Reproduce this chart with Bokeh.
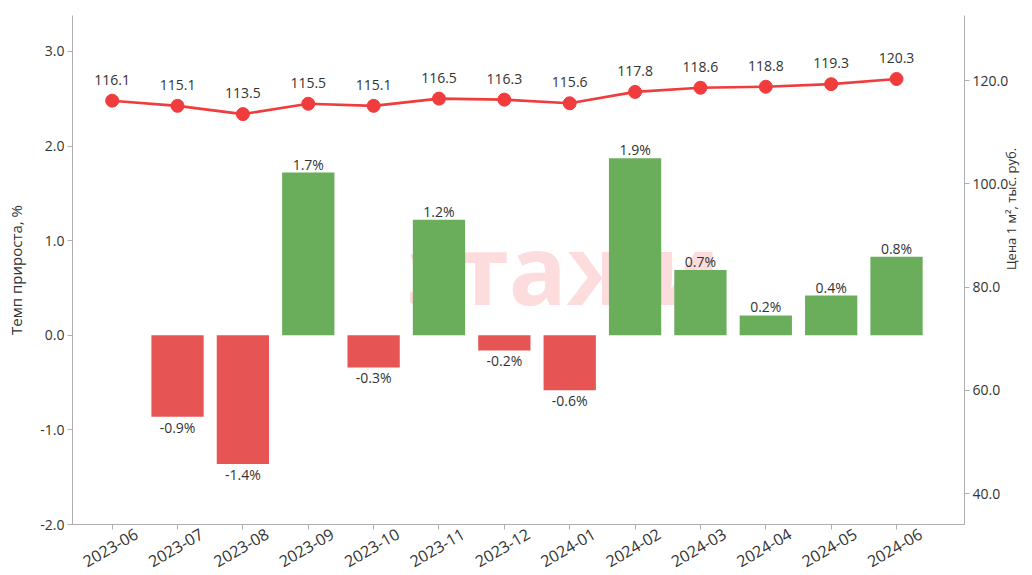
from bokeh.plotting import figure
from bokeh.models import Range1d, LinearAxis, FixedTicker, ColumnDataSource, CustomJSTickFormatter
from bokeh.core.properties import value
from bokeh.embed import file_html
from bokeh.resources import INLINE

months = ["2023-06", "2023-07", "2023-08", "2023-09", "2023-10", "2023-11", "2023-12",
          "2024-01", "2024-02", "2024-03", "2024-04", "2024-05", "2024-06"]
growth = [None, -0.86, -1.36, 1.72, -0.34, 1.22, -0.16, -0.58, 1.87, 0.69, 0.21, 0.42, 0.83]
price = [116.1, 115.1, 113.5, 115.5, 115.1, 116.5, 116.3, 115.6, 117.8, 118.6, 118.8, 119.3, 120.3]
left_ticks = [-2.0, -1.0, 0.0, 1.0, 2.0, 3.0]
right_ticks = [40.0, 60.0, 80.0, 100.0, 120.0]

FONT = "Open Sans"
TXT = "#333333"
AX = "#b0b0b0"
GREEN = "#6aae5b"
RED = "#e65454"
LINE = "#f03c3c"
SHIFT = 0.37  # label anchor shift so rotated labels are centred on ticks

xs = list(range(len(months)))

p = figure(width=1032, height=575, output_backend="svg", toolbar_location=None,
           x_range=Range1d(-0.607, 13.04), y_range=Range1d(-2.0, 3.38),
           min_border_left=72, min_border_right=62, min_border_top=15, min_border_bottom=48)
p.outline_line_color = None
p.xgrid.visible = False
p.ygrid.visible = False
p.extra_y_ranges = {"price": Range1d(34.0, 132.6)}

# watermark
p.text(x=[6.9], y=[0.72], text=["этажи"], text_font=value(FONT), text_font_size="96px",
       text_font_style="bold", text_color="#fbd3d3", text_alpha=0.8,
       text_align="center", text_baseline="middle")

bx = [x for x, g in zip(xs, growth) if g is not None]
bg = [g for g in growth if g is not None]
bars = ColumnDataSource(dict(x=bx, top=bg, color=[GREEN if g >= 0 else RED for g in bg]))
p.vbar(x="x", top="top", bottom=0, width=0.8, fill_color="color", line_color=None, source=bars)

pos = ColumnDataSource(dict(x=[x for x, g in zip(bx, bg) if g >= 0], y=[g for g in bg if g >= 0],
                            t=["%.1f%%" % g for g in bg if g >= 0]))
neg = ColumnDataSource(dict(x=[x for x, g in zip(bx, bg) if g < 0], y=[g for g in bg if g < 0],
                            t=["%.1f%%" % g for g in bg if g < 0]))
p.text(x="x", y="y", text="t", source=pos, text_font=value(FONT), text_font_size="14px",
       text_color=TXT, text_align="center", text_baseline="bottom", y_offset=1)
p.text(x="x", y="y", text="t", source=neg, text_font=value(FONT), text_font_size="14px",
       text_color=TXT, text_align="center", text_baseline="top", y_offset=1)

ps = ColumnDataSource(dict(x=xs, y=price, t=["%.1f" % v for v in price]))
p.line(x="x", y="y", source=ps, y_range_name="price", line_color=LINE, line_width=2.6)
p.scatter(x="x", y="y", source=ps, y_range_name="price", size=13, fill_color=LINE, line_color=LINE)
p.text(x="x", y="y", text="t", source=ps, y_range_name="price", text_font=value(FONT),
       text_font_size="14px", text_color=TXT, text_align="center", text_baseline="bottom",
       y_offset=-16)

def style(ax, size="14px", label_size="14px"):
    ax.axis_line_color = AX
    ax.major_tick_line_color = AX
    ax.minor_tick_line_color = None
    ax.major_tick_out = 5
    ax.major_tick_in = 0
    ax.major_label_standoff = 3
    ax.axis_label_standoff = 3
    ax.major_label_text_font = FONT
    ax.major_label_text_font_size = size
    ax.major_label_text_color = TXT
    ax.axis_label_text_font = FONT
    ax.axis_label_text_font_size = label_size
    ax.axis_label_text_color = TXT
    ax.axis_label_text_font_style = "normal"

# axis with tick marks only
p.xaxis.ticker = FixedTicker(ticks=xs)
style(p.xaxis[0], size="1px")
p.xaxis.major_label_text_color = None
p.xaxis.major_label_standoff = 0

# axis carrying the rotated month labels, centred on the ticks
lab_axis = LinearAxis(ticker=FixedTicker(ticks=[x + SHIFT for x in xs]),
                      formatter=CustomJSTickFormatter(args=dict(labels=months, shift=SHIFT),
                                                      code="return labels[Math.round(tick - shift)];"))
style(lab_axis, size="16px")
lab_axis.axis_line_color = None
lab_axis.major_tick_line_color = None
lab_axis.major_tick_out = 0
lab_axis.major_label_standoff = 3
lab_axis.major_label_orientation = 0.5236
p.add_layout(lab_axis, "below")

p.yaxis.ticker = FixedTicker(ticks=left_ticks)
p.yaxis.formatter = CustomJSTickFormatter(code="return tick.toFixed(1);")
p.yaxis.axis_label = "Темп прироста, %"
style(p.yaxis[0], label_size="15px")
p.yaxis.axis_label_standoff = 11

ra = LinearAxis(y_range_name="price", ticker=FixedTicker(ticks=right_ticks),
                formatter=CustomJSTickFormatter(code="return tick.toFixed(1);"),
                axis_label="Цена 1 м², тыс. руб.")
style(ra, label_size="13px")
ra.axis_label_standoff = 0
ra.axis_label_orientation = 1.5708
p.add_layout(ra, "right")

open("out.html", "w").write(file_html(p, INLINE))
